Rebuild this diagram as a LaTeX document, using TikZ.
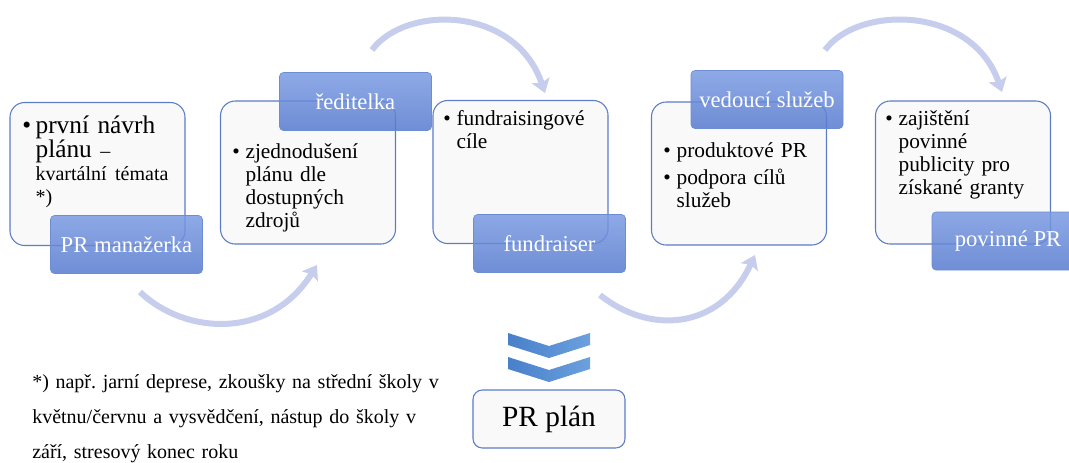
\documentclass[tikz,border=0pt]{standalone}
\usepackage{fontspec}
\setmainfont{Liberation Serif}
\usetikzlibrary{arrows.meta}

\definecolor{ramecek}{RGB}{92,124,198}
\definecolor{vypln}{RGB}{249,249,249}
\definecolor{stitekhore}{RGB}{122,154,226}
\definecolor{stitekdole}{RGB}{86,122,206}
\definecolor{stitekokraj}{RGB}{108,140,212}
\definecolor{sipka}{RGB}{198,205,237}
\definecolor{krokleva}{RGB}{72,128,202}
\definecolor{krokprava}{RGB}{108,160,222}

\newcommand{\odrazka}[1]{\hangindent=10pt\hangafter=1\noindent\makebox[10pt][l]{\textbullet}#1\par}

\tikzset{
  karta/.style={draw=ramecek, line width=0.8pt, rounded corners=11pt, fill=vypln,
    minimum width=131.25pt, minimum height=107.25pt, inner sep=0pt},
  stitek/.style={draw=stitekokraj, line width=0.5pt, rounded corners=3pt,
    top color=stitekhore, bottom color=stitekdole, fill opacity=0.85, text opacity=1,
    text=white, minimum width=114pt, minimum height=43.5pt, inner sep=0pt,
    font=\fontsize{17}{20}\selectfont},
  obsah/.style={anchor=base west, inner sep=0pt, text width=125pt,
    font=\fontsize{16}{17.25}\selectfont},
  oblouk/.style={draw=sipka, line width=4.5pt,
    -{Stealth[length=10pt,width=14pt,inset=2pt]}},
}

\begin{document}
\begin{tikzpicture}[x=0.75pt,y=-0.75pt]
\clip (0,0) rectangle (1069,462);

% oblouky mezi kroky
\coordinate (a1s) at (140,292);
\coordinate (a1e) at (317,265);
\coordinate (a2s) at (372,50);
\coordinate (a2e) at (545,93);
\coordinate (a3s) at (600,295);
\coordinate (a3e) at (755,255);
\coordinate (a4s) at (825,50);
\coordinate (a4e) at (1002,92);

\draw[oblouk] (a1s) .. controls (185,335) and (270,340) .. (a1e);
\draw[oblouk] (a2s) .. controls (405,5) and (515,5) .. (a2e);
\draw[oblouk] (a3s) .. controls (650,335) and (720,330) .. (a3e);
\draw[oblouk] (a4s) .. controls (858,5) and (972,5) .. (a4e);

% karty
\node[karta] (k1) at (97.5,174) {};
\node[karta] (k2) at (308,172.5) {};
\node[karta] (k3) at (520.5,172) {};
\node[karta] (k4) at (739,173.5) {};
\node[karta] (k5) at (963,172.5) {};

% texty v kartach
\node[obsah, font=\fontsize{19}{17.25}\selectfont] (t1) at (22,133)
  {\odrazka{první návrh\newline plánu {\fontsize{15}{17.25}\selectfont –\newline kvartální témata\newline *)}}};
\node[obsah] (t2) at (232,158)
  {\odrazka{zjednodušení\newline plánu dle\newline dostupných\newline zdrojů}};
\node[obsah] (t3) at (443,125)
  {\odrazka{fundraisingové\newline cíle}};
\node[obsah] (t4) at (663,157)
  {\parskip=3pt\odrazka{produktové PR}\odrazka{podpora cílů\newline služeb}};
\node[obsah] (t5) at (885,125)
  {\odrazka{zajištění\newline povinné\newline publicity pro\newline získané granty}};

% stitky s rolemi
\node[stitek] (s1) at (126.5,244.5) {PR manažerka};
\node[stitek] (s2) at (355.5,101.5) {ředitelka};
\node[stitek] (s3) at (549.5,243.5) {fundraiser};
\node[stitek] (s4) at (767,99.5) {vedoucí služeb};
\node[stitek] (s5) at (1008,241) {povinné PR};

% dvojita sipka dolu
\shade[left color=krokleva, right color=krokprava]
  (508,333) -- (549,346) -- (590,333) -- (590,345) -- (549,358) -- (508,345) -- cycle;
\shade[left color=krokleva, right color=krokprava]
  (508,357) -- (549,370) -- (590,357) -- (590,369) -- (549,382) -- (508,369) -- cycle;

% vysledek
\node[draw=ramecek, line width=0.8pt, rounded corners=7pt, fill=vypln,
  minimum width=114pt, minimum height=43.5pt, font=\fontsize{22}{26}\selectfont]
  (plan) at (549,419) {PR plán};

% poznamka
\node[anchor=base west, inner sep=0pt, text width=330pt,
  font=\fontsize{15}{26.25}\selectfont\frenchspacing] (pozn) at (32,388)
  {*) např. jarní deprese, zkoušky na střední školy v\\
   květnu/červnu a vysvědčení, nástup do školy v\\
   září, stresový konec roku};
\end{tikzpicture}
\end{document}
